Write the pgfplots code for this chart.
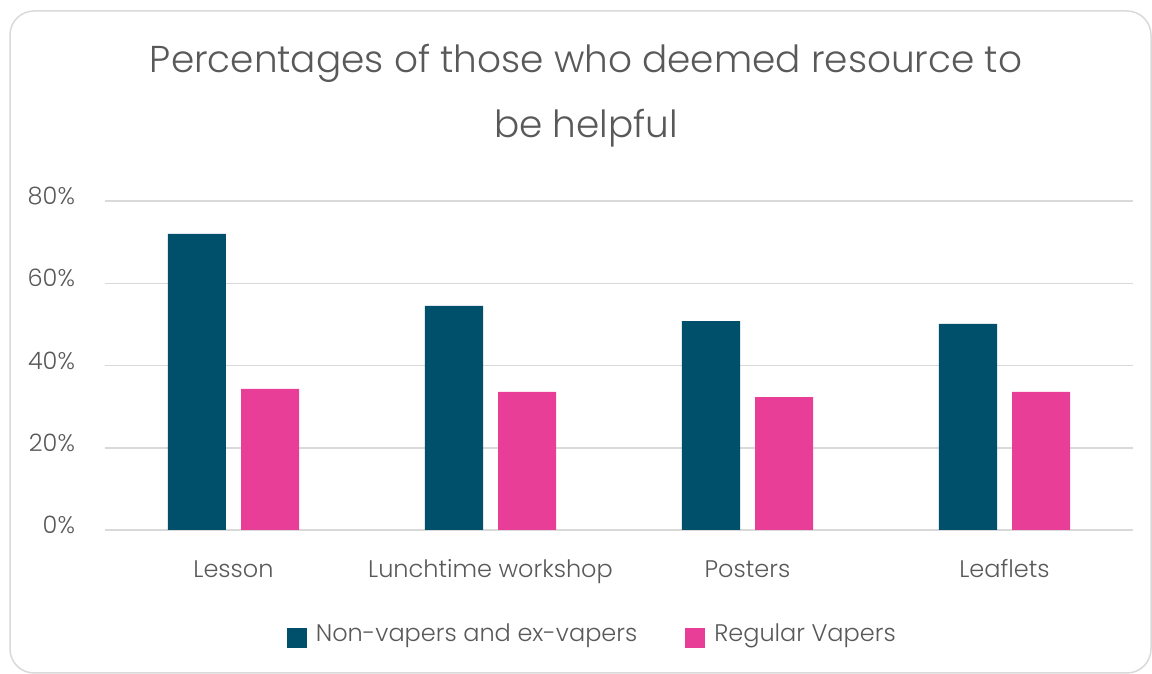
\documentclass[border=0pt]{standalone}
\usepackage{pgfplots}
\pgfplotsset{compat=1.18}
\usepackage{fontspec}
\setmainfont{Poppins Light}
\definecolor{barteal}{HTML}{004F6B}
\definecolor{barpink}{HTML}{E83E98}
\definecolor{txtgray}{HTML}{595959}
\definecolor{gridgray}{HTML}{D9D9D9}
\begin{document}
\begin{tikzpicture}[x=0.5pt,y=0.5pt]
\useasboundingbox (0,0) rectangle (1152,674);
\draw[gridgray, line width=0.75pt, rounded corners=12pt] (10,1) rectangle (1151,663);
\node[txtgray, font=\fontsize{18.7}{22}\selectfont, anchor=base] at (586,601) {Percentages of those who deemed resource to};
\node[txtgray, font=\fontsize{18.7}{22}\selectfont, anchor=base] at (586,536) {be helpful};
\begin{axis}[
  at={(52.5pt,72pt)}, anchor=south west,
  scale only axis, width=514pt, height=164.5pt,
  xmin=-0.5, xmax=3.5, ymin=0, ymax=80,
  ytick={0,20,40,60,80},
  /pgf/number format/assume math mode=true,
  yticklabel={\pgfmathprintnumber{\tick}\%},
  ymajorgrids, grid style={gridgray, line width=0.75pt},
  axis line style={draw=none},
  major tick length=0pt,
  xtick={0,1,2,3},
  xticklabels={Lesson, Lunchtime workshop, Posters, Leaflets},
  ticklabel style={txtgray, font=\fontsize{12}{14}\selectfont},
  yticklabel style={anchor=east, xshift=-11.5pt, yshift=2.5pt},
  xticklabel style={anchor=base, yshift=-24pt},
  legend style={at={(0.475,0)}, anchor=center, yshift=-52pt, draw=none,
    legend columns=2, font=\fontsize{12}{14}\selectfont, text=txtgray,
    /tikz/every even column/.append style={column sep=22pt}},
  legend image code/.code={\fill[#1] (-5pt,-7pt) rectangle (5pt,3pt);},
]
\addplot[ybar, bar width=29pt, bar shift=-18.25pt, fill=barteal, draw=none]
  coordinates {(0,72.0) (1,54.5) (2,50.8) (3,50.1)};
\addlegendentry{\hspace*{2.5pt}Non-vapers and ex-vapers}
\addplot[ybar, bar width=29pt, bar shift=18.25pt, fill=barpink, draw=none]
  coordinates {(0,34.3) (1,33.6) (2,32.3) (3,33.6)};
\addlegendentry{\hspace*{2.5pt}Regular Vapers}
\end{axis}
\end{tikzpicture}
\end{document}
